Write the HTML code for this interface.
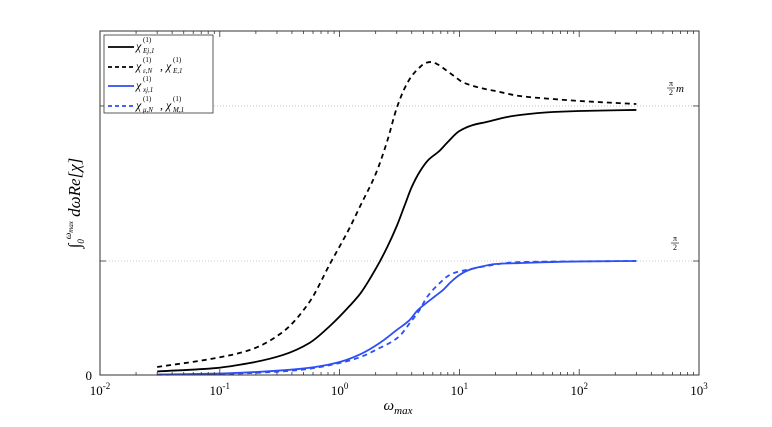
<!DOCTYPE html>
<html><head><meta charset="utf-8">
<style>
body{margin:0;background:#fff;}
svg text{font-family:"Liberation Serif",serif;}
</style></head>
<body>
<svg id="chart" width="772" height="422" xmlns="http://www.w3.org/2000/svg">
<rect width="772" height="422" fill="#fff"/>
<g id="grid"></g>
<g id="series"></g>
<g id="axes"></g>
<g id="legend"></g>
</svg>
<script>
// data (omega, value in units of pi/2)
const omegaSolidBlack=[0.03,0.093,0.178,0.335,0.56,0.83,1.21,1.5,2,2.5,3,3.5,4,4.65,5.5,6.8,8,10,13,16.8,25,32,60,100,300];
const valSolidBlack=[0.031,0.061,0.105,0.175,0.281,0.430,0.605,0.719,0.930,1.123,1.307,1.491,1.649,1.781,1.886,1.965,2.044,2.140,2.193,2.219,2.263,2.281,2.307,2.316,2.325];
const omegaDashedBlack=[0.03,0.093,0.178,0.335,0.56,0.83,1.21,1.5,2,2.5,3,3.5,4,4.6,5.2,5.8,6.5,7.5,9,10.6,15,20,32,60,100,300];
const valDashedBlack=[0.070,0.149,0.219,0.377,0.640,0.974,1.289,1.491,1.763,2.053,2.342,2.518,2.623,2.693,2.737,2.746,2.728,2.684,2.623,2.570,2.518,2.491,2.447,2.421,2.404,2.377];
const omegaSolidBlue=[0.03,0.1,0.2,0.46,0.7,1,1.5,2.16,3,3.84,4.5,5.3,6.3,7.3,8.5,10,12,14.7,20,32,100,300];
const valSolidBlue=[0.004,0.013,0.026,0.053,0.079,0.114,0.184,0.281,0.395,0.482,0.570,0.632,0.693,0.746,0.816,0.877,0.921,0.947,0.974,0.982,0.996,1.0];
const omegaDashedBlue=[0.03,0.1,0.2,0.46,1,1.5,2.16,2.7,3.17,3.8,4.65,5.3,6,7,7.8,9,11.4,15,32,300];
const valDashedBlue=[0.002,0.009,0.019,0.044,0.105,0.158,0.237,0.289,0.342,0.447,0.570,0.675,0.746,0.816,0.860,0.895,0.921,0.947,0.991,1.0];
const xTickExps=[-2,-1,0,1,2,3];
const yRefVals=[0,1,2.36];

const L=100,R=699,T=31,B=375;
const NS='http://www.w3.org/2000/svg';
function xs(w){return L+(Math.log10(w)+2)/5*(R-L);}
function ys(v){return B-v*114;}
function mk(tag,attrs,parent){const e=document.createElementNS(NS,tag);for(const k in attrs)e.setAttribute(k,attrs[k]);parent.appendChild(e);return e;}
const grid=document.getElementById('grid'),ser=document.getElementById('series'),ax=document.getElementById('axes'),lg=document.getElementById('legend');

[1,2.36].forEach(v=>{
  const g=mk('line',{x1:L,x2:R,y1:ys(v),y2:ys(v),stroke:'#bbb','stroke-width':0.8,'stroke-dasharray':'1,2'},grid);
  
  
});

function pathFor(ox,vy){
  const x=ox.map(xs),y=vy.map(ys),n=x.length;
  const d=[],m=new Array(n);
  for(let i=0;i<n-1;i++)d.push((y[i+1]-y[i])/(x[i+1]-x[i]));
  m[0]=d[0];m[n-1]=d[n-2];
  for(let i=1;i<n-1;i++){
    if(d[i-1]*d[i]<=0)m[i]=0;
    else{const w1=2*(x[i+1]-x[i])+(x[i]-x[i-1]),w2=(x[i+1]-x[i])+2*(x[i]-x[i-1]);m[i]=(w1+w2)/(w1/d[i-1]+w2/d[i]);}
  }
  let s='M'+x[0]+','+y[0];
  for(let i=0;i<n-1;i++){
    const h=(x[i+1]-x[i])/3;
    s+=' C'+(x[i]+h)+','+(y[i]+m[i]*h)+' '+(x[i+1]-h)+','+(y[i+1]-m[i+1]*h)+' '+x[i+1]+','+y[i+1];
  }
  return s;
}
const series=[
 [omegaSolidBlack,valSolidBlack,'#000',null,'series-chi-Ej1'],
 [omegaDashedBlack,valDashedBlack,'#000','5,4','series-chi-epsN-E1'],
 [omegaSolidBlue,valSolidBlue,'#2d4ef5',null,'series-chi-xj1'],
 [omegaDashedBlue,valDashedBlue,'#2d4ef5','5,4','series-chi-muN-M1']];
series.forEach(s=>{
  const p=mk('path',{d:pathFor(s[0],s[1]),fill:'none',stroke:s[2],'stroke-width':1.8},ser);
  if(s[3])p.setAttribute('stroke-dasharray',s[3]);
  
  
});

const box=mk('rect',{x:L,y:T,width:R-L,height:B-T,fill:'none',stroke:'#333','stroke-width':1},ax);


for(let e=-2;e<3;e++){for(let m=1;m<10;m++){
  const x=xs(m*Math.pow(10,e)),len=m===1?6:3;
  mk('line',{x1:x,x2:x,y1:B,y2:B-len,stroke:'#333','stroke-width':0.8},ax);
  mk('line',{x1:x,x2:x,y1:T,y2:T+len,stroke:'#333','stroke-width':0.8},ax);
}}
xTickExps.forEach(e=>{
  const t=mk('text',{x:xs(Math.pow(10,e)),y:395,'text-anchor':'middle','font-size':13,'font-family':'Liberation Sans, sans-serif'},ax);
  
  
  t.innerHTML='10<tspan dy="-6" font-size="9">'+e+'</tspan>';
});
yRefVals.forEach(v=>{
  mk('line',{x1:L,x2:L+6,y1:ys(v),y2:ys(v),stroke:'#333','stroke-width':0.8},ax);
  mk('line',{x1:R,x2:R-6,y1:ys(v),y2:ys(v),stroke:'#333','stroke-width':0.8},ax);
});
const z=mk('text',{x:92,y:380,'text-anchor':'end','font-size':13,'font-family':'Liberation Sans, sans-serif'},ax);


z.textContent='0';
function frac(x,y,extra,name){
  const g=mk('g',{},ax);
  
  
  mk('text',{x:x,y:y-3,'text-anchor':'middle','font-size':8},g).textContent='π';
  mk('line',{x1:x-4,x2:x+4,y1:y-1,y2:y-1,stroke:'#000','stroke-width':0.6},g);
  mk('text',{x:x,y:y+6,'text-anchor':'middle','font-size':8},g).textContent='2';
  if(extra){mk('text',{x:x+5,y:y+3,'font-size':11,'font-style':'italic'},g).textContent=extra;}
}
frac(671,89,'m','label-pi-over-2-m');
frac(675,244,null,'label-pi-over-2');
const xt=mk('text',{x:398,y:410,'text-anchor':'middle','font-size':15,'font-style':'italic'},ax);


xt.innerHTML='ω<tspan dy="4" font-size="11">max</tspan>';
const yt=mk('text',{x:0,y:0,'text-anchor':'middle','font-size':17,'font-style':'italic',transform:'translate(80,203) rotate(-90)'},ax);


yt.innerHTML='∫<tspan dy="4" font-size="9">0</tspan><tspan dy="-13" font-size="9">ω</tspan><tspan dy="2" font-size="7">max</tspan><tspan dy="7"> dωRe[χ]</tspan>';

const lb=mk('rect',{x:104,y:35,width:109,height:78,fill:'#fff',stroke:'#333','stroke-width':0.8},lg);


const legColors=['#000','#000','#2d4ef5','#2d4ef5'];
const legDash=[null,'4,3',null,'4,3'];
const legSub1=['Ej,1','ε,N','xj,1','μ,N'];
const legSub2=['','E,1','','M,1'];
[47,67,86,106].forEach((y,i)=>{
  const g=mk('g',{},lg);
  
  
  const l=mk('line',{x1:108,x2:134,y1:y,y2:y,stroke:legColors[i],'stroke-width':1.8},g);
  if(legDash[i])l.setAttribute('stroke-dasharray',legDash[i]);
  mk('text',{x:136,y:y+3,'font-size':12,'font-style':'italic'},g).textContent='χ';
  mk('text',{x:143,y:y-5,'font-size':7},g).textContent='(1)';
  mk('text',{x:143,y:y+6,'font-size':7,'font-style':'italic'},g).textContent=legSub1[i];
  if(legSub2[i]){
    mk('text',{x:160,y:y+3,'font-size':12},g).textContent=',';
    mk('text',{x:166,y:y+3,'font-size':12,'font-style':'italic'},g).textContent='χ';
    mk('text',{x:173,y:y-5,'font-size':7},g).textContent='(1)';
    mk('text',{x:173,y:y+6,'font-size':7,'font-style':'italic'},g).textContent=legSub2[i];
  }
});
</script>
</body></html>
